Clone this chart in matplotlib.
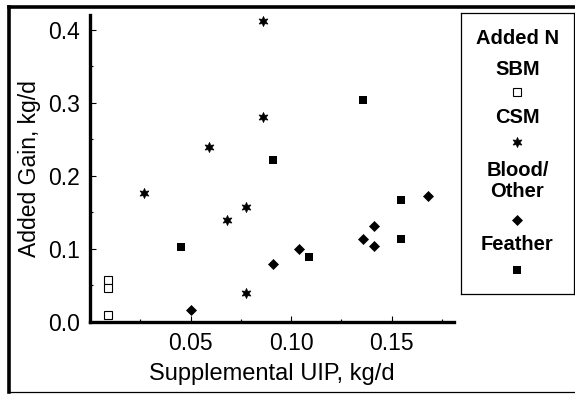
import matplotlib
matplotlib.use("Agg")
import matplotlib.pyplot as plt
from matplotlib.lines import Line2D
from matplotlib.ticker import MultipleLocator, FormatStrFormatter

plt.rcParams['font.family'] = ['Liberation Sans', 'DejaVu Sans']

# Supplemental UIP (kg/d) vs added gain (kg/d), by protein source
sbm_x = [0.009, 0.009, 0.009]
sbm_y = [0.058, 0.046, 0.009]

csm_x = [0.086, 0.086, 0.059, 0.0775, 0.068, 0.0775, 0.027]
csm_y = [0.412, 0.281, 0.240, 0.158, 0.140, 0.040, 0.176]

blood_x = [0.050, 0.091, 0.104, 0.136, 0.141, 0.141, 0.168]
blood_y = [0.016, 0.080, 0.100, 0.113, 0.131, 0.104, 0.172]

feather_x = [0.0455, 0.136, 0.091, 0.1545, 0.1545, 0.109]
feather_y = [0.103, 0.304, 0.222, 0.167, 0.113, 0.089]

legend_title = "Added N"
legend_labels = ["SBM", "CSM", "Blood/\nOther", "Feather"]

# marker styles shared by plot and legend box
sbm_style = dict(ls='none', marker='s', ms=5.2, mfc='white', mec='black', mew=0.8)
csm_style = dict(ls='none', marker=(6, 1, 0), ms=7.5, color='black', mew=0.4)
blood_style = dict(ls='none', marker='D', ms=4.6, color='black', mew=0.5)
feather_style = dict(ls='none', marker='s', ms=6.3, color='black', mew=0)

fig = plt.figure(figsize=(5.75, 3.94), dpi=100)
ax = fig.add_axes([0.1565, 0.1827, 0.633, 0.7792])

ax.plot(sbm_x, sbm_y, **sbm_style)
ax.plot(csm_x, csm_y, **csm_style)
ax.plot(blood_x, blood_y, **blood_style)
ax.plot(feather_x, feather_y, **feather_style)

ax.set_xlim(0, 0.181)
ax.set_ylim(0, 0.42)
ax.xaxis.set_major_locator(MultipleLocator(0.05))
ax.xaxis.set_minor_locator(MultipleLocator(0.025))
ax.yaxis.set_major_locator(MultipleLocator(0.1))
ax.yaxis.set_minor_locator(MultipleLocator(0.05))
ax.xaxis.set_major_formatter(FormatStrFormatter('%.2f'))
ax.yaxis.set_major_formatter(FormatStrFormatter('%.1f'))
ax.set_xticks([0.05, 0.10, 0.15])

for s in ['top', 'right']:
    ax.spines[s].set_visible(False)
for s in ['left', 'bottom']:
    ax.spines[s].set_linewidth(2.4)

ax.tick_params(which='major', direction='in', length=4.5, width=0.8, labelsize=16.5, pad=7)
ax.tick_params(which='minor', direction='in', length=2.5, width=0.8)

ax.set_xlabel("Supplemental UIP, kg/d", fontsize=17, labelpad=6)
ax.set_ylabel("Added Gain, kg/d", fontsize=16.5, labelpad=5)

# legend box drawn as its own axes
lax = fig.add_axes([0.8017, 0.2538, 0.1965, 0.7132])
lax.set_xlim(0, 1)
lax.set_ylim(294, 13)
lax.set_xticks([])
lax.set_yticks([])
for s in lax.spines.values():
    s.set_linewidth(0.9)

text_kw = dict(ha='center', va='center', fontsize=14.5, fontweight='bold')
lax.text(0.5, 38, legend_title, **text_kw)
lax.text(0.5, 69, legend_labels[0], **text_kw)
lax.plot([0.5], [92], **sbm_style)
lax.text(0.5, 117.5, legend_labels[1], **text_kw)
lax.plot([0.5], [141.5], **csm_style)
lax.text(0.5, 181, legend_labels[2], linespacing=1.15, **text_kw)
lax.plot([0.5], [220], **blood_style)
lax.text(0.5, 244, legend_labels[3], **text_kw)
lax.plot([0.5], [270], **feather_style)

# outer frame (thick top/left, thin bottom)
fig.add_artist(Line2D([0.0157, 1.0], [0.9835, 0.9835], lw=2.6, color='black',
                      transform=fig.transFigure, solid_capstyle='projecting'))
fig.add_artist(Line2D([0.0157, 0.0157], [0.004, 0.9835], lw=2.6, color='black',
                      transform=fig.transFigure, solid_capstyle='projecting'))
fig.add_artist(Line2D([0.0157, 1.0], [0.004, 0.004], lw=0.9, color='black',
                      transform=fig.transFigure))

fig.savefig("out.png", dpi=100)
